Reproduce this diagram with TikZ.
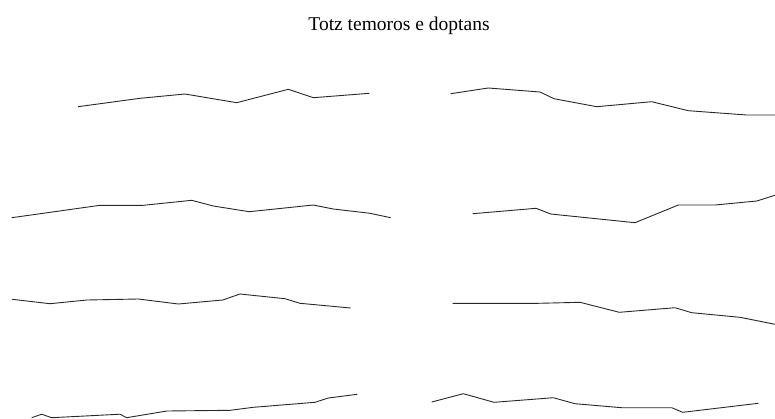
\documentclass[tikz,border=0pt]{standalone}
\usepackage{fontspec}
\setmainfont{Liberation Serif}
\usepackage{tikz}
\usetikzlibrary{positioning}
\definecolor{traceink}{RGB}{40,40,40}

\begin{document}
\begin{tikzpicture}[x=1pt, y=-1pt,
    trace/.style={traceink, line width=0.9pt, line join=round}]
    \useasboundingbox (0,0) rectangle (775,418);

    % Title
    \node[anchor=base] (title) at (399,30) {\fontsize{19.5}{22}\selectfont Totz temoros e doptans};

    % Left column
    \draw[trace] (78,106.7) -- (140,98.3) -- (185,94) -- (236.7,102.7) -- (288.3,89.3) -- (313.3,97.7) -- (369.3,93.3);
    \draw[trace] (11.7,217.7) -- (100,205.3) -- (143.3,205.3) -- (191.7,200.3) -- (213.3,206) -- (249.3,211.7) -- (313.3,205) -- (333.3,209) -- (370,213.3) -- (390.7,217.7);
    \draw[trace] (12.3,299.3) -- (50,303.7) -- (86.7,300) -- (138.3,299) -- (178.3,304) -- (222.7,300) -- (240,294) -- (285,298.7) -- (300,303.3) -- (350.7,308);
    \draw[trace] (31.7,417.7) -- (41.7,414.2) -- (51.7,417.7) -- (120,414.2) -- (126.7,417.7) -- (166.7,411) -- (230,410.3) -- (253.3,407.3) -- (315,402.3) -- (328.3,398) -- (357.3,394.3);

    % Right column
    \draw[trace] (450.7,93.7) -- (488.3,88) -- (540,92) -- (554,98.7) -- (596.7,106.7) -- (651.7,101.7) -- (688.3,110.7) -- (746.7,115) -- (775,115);
    \draw[trace] (472.7,213.7) -- (536,208.3) -- (550.7,214) -- (635,222.7) -- (678.3,205) -- (715,205) -- (756.7,201) -- (775,195.3);
    \draw[trace] (452.7,303.3) -- (538.3,303.3) -- (580,302.3) -- (619.3,312.3) -- (675,307.7) -- (691.7,312.7) -- (740,317.3) -- (775,324.3);
    \draw[trace] (431.7,402) -- (463.3,393.7) -- (494,402.3) -- (553.3,397.7) -- (575,403.7) -- (621.7,407.7) -- (671.7,407.7) -- (682.7,412.3) -- (758.3,403.3);
\end{tikzpicture}
\end{document}
